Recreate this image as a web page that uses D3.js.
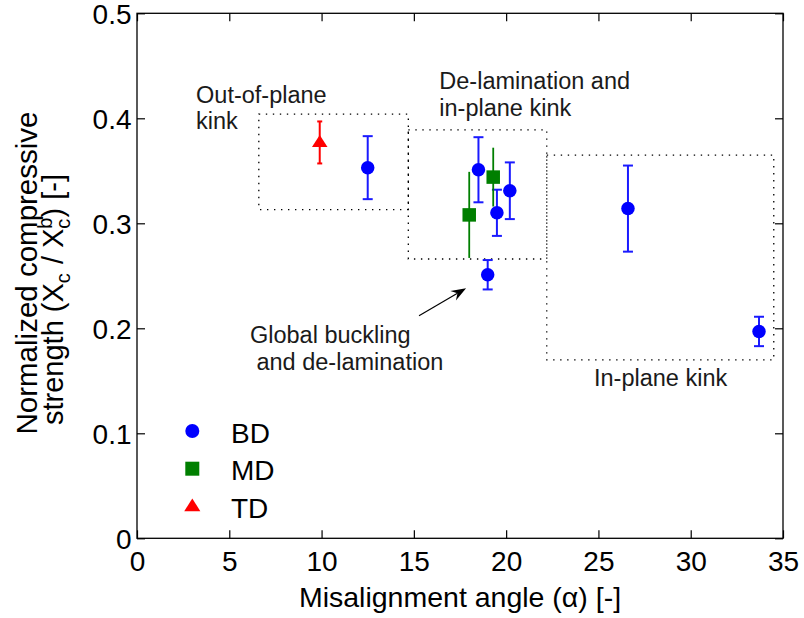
<!DOCTYPE html>
<html>
<head>
<meta charset="utf-8">
<script src="https://cdn.jsdelivr.net/npm/d3@7"></script>
<style>
  html, body { margin: 0; padding: 0; background: #fff; }
  svg { display: block; }
  text { font-family: "Liberation Sans", Arial, Helvetica, sans-serif; }
</style>
</head>
<body>
<svg id="chart" width="804" height="618"></svg>
<script>
// Misalignment angle vs. normalized compressive strength, three specimen families
const bdX   = [12.5, 18.5, 19.5, 20.2, 19.0, 26.6, 33.7];
const bdY   = [0.353, 0.351, 0.310, 0.331, 0.251, 0.314, 0.197];
const bdErr = [0.030, 0.031, 0.022, 0.027, 0.014, 0.041, 0.014];

const mdX   = [18.0, 19.3];
const mdY   = [0.308, 0.344];
const mdErr = [0.041, 0.028];

const tdX   = [9.9];
const tdY   = [0.377];
const tdErr = [0.020];

const seriesNames = ["BD", "MD", "TD"];

const xTicks = [0, 5, 10, 15, 20, 25, 30, 35];
const xTickLabels = ["0", "5", "10", "15", "20", "25", "30", "35"];
const yTicks = [0, 0.1, 0.2, 0.3, 0.4, 0.5];
const yTickLabels = ["0", "0.1", "0.2", "0.3", "0.4", "0.5"];

// failure-mode regions (dotted boxes)
const regionX0 = [6.6, 14.7, 22.2];
const regionX1 = [14.7, 22.2, 34.5];
const regionY0 = [0.313, 0.266, 0.170];
const regionY1 = [0.404, 0.389, 0.365];

const regionLabels = [
  ["Out-of-plane", "kink"],
  ["De-lamination and", "in-plane kink"],
  ["Global buckling", " and de-lamination"],
  ["In-plane kink"]
];

const svg = d3.select("#chart");
const W = 804, H = 618;
const plotLeft = 137, plotRight = 783, plotTop = 13.3, plotBottom = 538.3;

svg.append("rect").attr("width", W).attr("height", H).attr("fill", "#fff");

const x = d3.scaleLinear().domain([0, 35]).range([plotLeft, plotRight]);
const y = d3.scaleLinear().domain([0, 0.5]).range([plotBottom, plotTop]);

const tickFont = 28;

// axes (ticks pointing inward on all four sides)
const gB = svg.append("g").attr("transform", `translate(0,${plotBottom})`)
  .call(d3.axisBottom(x).tickValues(xTicks).tickFormat((d, i) => xTickLabels[i])
    .tickSizeInner(-8).tickSizeOuter(0).tickPadding(0));
const gT = svg.append("g").attr("transform", `translate(0,${plotTop})`)
  .call(d3.axisTop(x).tickValues(xTicks).tickFormat("")
    .tickSizeInner(-8).tickSizeOuter(0));
const gL = svg.append("g").attr("transform", `translate(${plotLeft},0)`)
  .call(d3.axisLeft(y).tickValues(yTicks).tickFormat((d, i) => yTickLabels[i])
    .tickSizeInner(-8).tickSizeOuter(0).tickPadding(5.5));
const gR = svg.append("g").attr("transform", `translate(${plotRight},0)`)
  .call(d3.axisRight(y).tickValues(yTicks).tickFormat("")
    .tickSizeInner(-8).tickSizeOuter(0));

[gB, gT, gL, gR].forEach(g => {
  g.select(".domain").remove();
  g.selectAll(".tick line").attr("stroke", "#000").attr("stroke-width", 1.2);
});
gB.selectAll(".tick text")
  .attr("y", 33).attr("dy", null)
  .attr("font-size", tickFont).attr("fill", "#000")
  .attr("font-family", "Liberation Sans, Arial, sans-serif");
gL.selectAll(".tick text")
  .attr("dy", "0.36em")
  .attr("font-size", tickFont).attr("fill", "#000")
  .attr("font-family", "Liberation Sans, Arial, sans-serif");

svg.append("rect")
  .attr("x", plotLeft).attr("y", plotTop)
  .attr("width", plotRight - plotLeft).attr("height", plotBottom - plotTop)
  .attr("fill", "none").attr("stroke", "#000").attr("stroke-width", 1.3);

// dotted region boxes
const regions = d3.range(regionX0.length);
svg.append("g").selectAll("rect").data(regions).join("rect")
  .attr("x", i => x(regionX0[i]))
  .attr("y", i => y(regionY1[i]))
  .attr("width", i => x(regionX1[i]) - x(regionX0[i]))
  .attr("height", i => y(regionY0[i]) - y(regionY1[i]))
  .attr("fill", "none").attr("stroke", "#000")
  .attr("stroke-width", 1.3).attr("stroke-dasharray", "1.4 5.6");

// region labels
const annFont = 23.5, annLead = 26.5;
const labelAnchors = [[3.2, 0.4146], [16.38, 0.4276], [6.12, 0.1857], [24.76, 0.145]];
const ann = svg.append("g").attr("fill", "#1a1a1a").attr("font-size", annFont);
regionLabels.forEach((lines, i) => {
  const t = ann.append("text")
    .attr("x", x(labelAnchors[i][0])).attr("y", y(labelAnchors[i][1]))
    .attr("xml:space", "preserve");
  lines.forEach((s, j) => {
    t.append("tspan").attr("x", x(labelAnchors[i][0]))
      .attr("dy", j === 0 ? 0 : annLead).text(s);
  });
});

// arrow towards the global-buckling point
const arrowFrom = [15.28, 0.2119], arrowTo = [17.83, 0.2381];
{
  const x1 = x(arrowFrom[0]), y1 = y(arrowFrom[1]);
  const x2 = x(arrowTo[0]), y2 = y(arrowTo[1]);
  const ang = Math.atan2(y2 - y1, x2 - x1);
  const L = 15, Wd = 5.5, notch = 10;
  const ux = Math.cos(ang), uy = Math.sin(ang), px = -uy, py = ux;
  svg.append("line")
    .attr("x1", x1).attr("y1", y1)
    .attr("x2", x2 - ux * notch).attr("y2", y2 - uy * notch)
    .attr("stroke", "#000").attr("stroke-width", 1.2);
  const pts = [
    [x2, y2],
    [x2 - ux * L + px * Wd, y2 - uy * L + py * Wd],
    [x2 - ux * notch, y2 - uy * notch],
    [x2 - ux * L - px * Wd, y2 - uy * L - py * Wd]
  ];
  svg.append("polygon").attr("points", pts.map(p => p.join(",")).join(" ")).attr("fill", "#000");
}

// error bars + markers
const series = [
  { xs: bdX, ys: bdY, es: bdErr, color: "#0000ff", barColor: "#1a1aff", cap: 5, shape: "circle" },
  { xs: mdX, ys: mdY, es: mdErr, color: "#007f00", barColor: "#007f00", cap: 0, shape: "square" },
  { xs: tdX, ys: tdY, es: tdErr, color: "#ff0000", barColor: "#ff0000", cap: 2.5, shape: "triangle" }
];

function drawMarker(g, shape, cx, cy, color, size) {
  if (shape === "circle") {
    g.append("circle").attr("cx", cx).attr("cy", cy).attr("r", size / 2).attr("fill", color);
  } else if (shape === "square") {
    g.append("rect").attr("x", cx - size / 2).attr("y", cy - size / 2)
      .attr("width", size).attr("height", size).attr("fill", color);
  } else {
    const w = size * 1.15, h = size * 0.9;
    g.append("polygon")
      .attr("points", `${cx},${cy - h * 0.62} ${cx - w / 2},${cy + h * 0.38} ${cx + w / 2},${cy + h * 0.38}`)
      .attr("fill", color);
  }
}

series.forEach(s => {
  const g = svg.append("g");
  s.xs.forEach((xv, i) => {
    const cx = x(xv), yTop = y(s.ys[i] + s.es[i]), yBot = y(s.ys[i] - s.es[i]);
    g.append("line").attr("x1", cx).attr("x2", cx).attr("y1", yTop).attr("y2", yBot)
      .attr("stroke", s.barColor).attr("stroke-width", s.cap ? 2 : 1.8);
    if (s.cap) {
      [yTop, yBot].forEach(yy => g.append("line")
        .attr("x1", cx - s.cap).attr("x2", cx + s.cap).attr("y1", yy).attr("y2", yy)
        .attr("stroke", s.barColor).attr("stroke-width", 2));
    }
  });
  s.xs.forEach((xv, i) => drawMarker(g, s.shape, x(xv), y(s.ys[i]), s.color, 13.5));
});

// legend
const leg = svg.append("g");
seriesNames.forEach((name, i) => {
  const cy = 431 + i * 37.7;
  drawMarker(leg, series[i].shape, 192.3, cy, series[i].color, 14);
  leg.append("text").attr("x", 231).attr("y", cy + 11.5)
    .attr("font-size", tickFont).attr("fill", "#000").text(name);
});

// axis titles
svg.append("text")
  .attr("x", (plotLeft + plotRight) / 2).attr("y", 606.5)
  .attr("text-anchor", "middle").attr("font-size", 28.5).attr("fill", "#000")
  .text("Misalignment angle (α) [-]");

svg.append("text")
  .attr("transform", "translate(37,273) rotate(-90)")
  .attr("text-anchor", "middle").attr("font-size", 29.5).attr("fill", "#000")
  .text("Normalized compressive");

const yl2 = svg.append("text")
  .attr("transform", "translate(63,425) rotate(-90)")
  .attr("text-anchor", "start").attr("font-size", 29).attr("fill", "#000");
yl2.append("tspan").text("strength (X");
yl2.append("tspan").attr("font-size", 20).attr("dy", 7).text("c");
yl2.append("tspan").attr("dx", 1).attr("dy", -7).text(" / X");
yl2.append("tspan").attr("font-size", 20).attr("dy", 7).text("c");
yl2.append("tspan").attr("font-size", 20).attr("dx", -10).attr("dy", -18).text("b");
yl2.append("tspan").attr("dy", 11).text(") [-]");
</script>
</body>
</html>
